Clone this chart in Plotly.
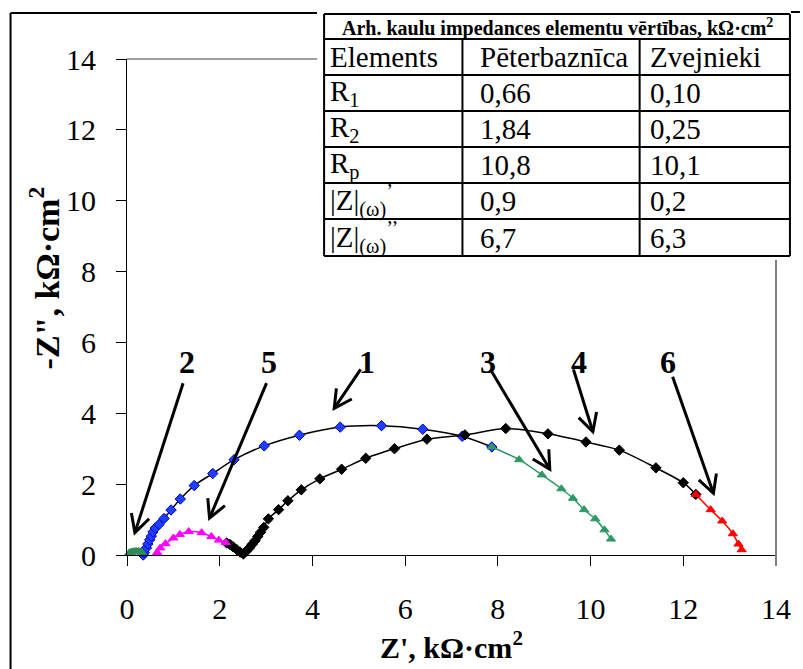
import math
import plotly.graph_objects as go

# ---- Nyquist data, kOhm*cm2 ----
# 1: first arc (blue markers)
s1_x = [0.35, 0.375, 0.42, 0.45, 0.49, 0.525, 0.56, 0.61, 0.69, 0.80, 0.95, 1.15, 1.45,
        1.85, 2.31, 2.96, 3.72, 4.60, 5.49, 6.38, 7.23, 7.87]
s1_y = [0.00, 0.07, 0.20, 0.31, 0.43, 0.53, 0.65, 0.76, 0.86, 1.03, 1.27, 1.58, 1.96,
        2.30, 2.69, 3.08, 3.38, 3.61, 3.65, 3.55, 3.35, 3.05]
# 2: high-frequency start (green)
s2_x = [0.05, 0.09, 0.13, 0.17, 0.21, 0.25, 0.29, 0.33]
s2_y = [0.06, 0.08, 0.09, 0.10, 0.10, 0.10, 0.09, 0.06]
# 3: low-frequency tail of 1 (green)
s3_x = [7.87, 8.46, 8.95, 9.37, 9.62, 9.86, 10.10, 10.30, 10.44]
s3_y = [3.05, 2.69, 2.26, 1.87, 1.60, 1.28, 1.02, 0.71, 0.45]
# 4: second arc (black markers)
s4_x = [2.15, 2.22, 2.29, 2.37, 2.44, 2.51, 2.58, 2.64, 2.70, 2.76, 2.82, 2.88, 2.95,
        3.05, 3.27, 3.47, 3.76, 4.16, 4.63, 5.15, 5.77, 6.47, 7.29, 8.17, 9.08, 9.90,
        10.62, 11.41, 12.00, 12.27]
s4_y = [0.34, 0.30, 0.23, 0.15, 0.08, 0.03, 0.12, 0.20, 0.30, 0.40, 0.52, 0.64, 0.78,
        1.02, 1.28, 1.53, 1.84, 2.15, 2.42, 2.73, 3.00, 3.27, 3.39, 3.57, 3.42, 3.19,
        2.96, 2.46, 2.04, 1.71]
# 5: high-frequency arc (magenta)
s5_x = [0.65, 0.72, 0.83, 1.00, 1.14, 1.33, 1.61, 1.82, 1.98, 2.13]
s5_y = [0.07, 0.20, 0.32, 0.48, 0.58, 0.66, 0.63, 0.52, 0.42, 0.35]
# 6: low-frequency tail of 4 (red)
s6_x = [12.27, 12.59, 12.84, 13.07, 13.19, 13.26]
s6_y = [1.71, 1.28, 0.96, 0.60, 0.31, 0.15]

axis_ticks = [0, 2, 4, 6, 8, 10, 12, 14]

# ---- table of element values ----
table_title = "Arh. kaulu impedances elementu vērtības, kΩ·cm<sup>2</sup>"
table_header = ["Elements", "Pēterbaznīca", "Zvejnieki"]
table_elements = ["R<sub>1</sub>", "R<sub>2</sub>", "R<sub>p</sub>",
                  "|Z|<sub>(ω)</sub><sup>’</sup>", "|Z|<sub>(ω)</sub><sup>’’</sup>"]
table_peterbaznica = ["0,66", "1,84", "10,8", "0,9", "6,7"]
table_zvejnieki = ["0,10", "0,25", "10,1", "0,2", "6,3"]

# ---- curve labels with arrows: (label, label x, label y, tail x, tail y, tip x, tip y) ----
curve_labels = [
    ("2", 1.29, 5.46, 1.21, 4.85, 0.17, 0.63),
    ("5", 3.06, 5.46, 3.01, 4.85, 1.78, 1.04),
    ("1", 5.17, 5.46, 5.04, 5.24, 4.47, 4.14),
    ("3", 7.79, 5.46, 7.87, 5.17, 9.12, 2.42),
    ("4", 9.74, 5.46, 9.63, 5.24, 10.05, 3.48),
    ("6", 11.67, 5.46, 11.77, 5.03, 12.65, 1.74),
]

FONT = "Liberation Serif"
W, H = 803, 669
ML, MR, MT, MB = 127, 24, 59, 114
PW, PH = W - ML - MR, H - MT - MB
SX, SY = PW / 14.0, PH / 14.0  # px per data unit


def px(x):
    return (x - ML) / PW


def py(y):
    return (H - MB - y) / PH


fig = go.Figure()


def add_series(x, y, symbol, mcolor, lcolor, size, mline=None):
    fig.add_trace(go.Scatter(
        x=x, y=y, mode="lines+markers",
        line=dict(color=lcolor, width=1.5, shape="spline", smoothing=0.8),
        marker=dict(symbol=symbol, color=mcolor, size=size,
                    line=dict(color=mline or mcolor, width=1)),
        cliponaxis=False, showlegend=False, hoverinfo="skip"))


add_series(s1_x, s1_y, "diamond", "#1f3fff", "black", 8, "#0000c0")
add_series(s3_x, s3_y, "triangle-up", "#2e9966", "#2e9966", 8)
add_series(s4_x, s4_y, "diamond", "black", "black", 8)
add_series(s5_x, s5_y, "triangle-up", "#ff00ff", "#ff00ff", 8)
add_series(s6_x, s6_y, "triangle-up", "#ff0000", "#ff0000", 8)
add_series(s2_x, s2_y, "triangle-up", "#2e8b57", "#2e8b57", 8)

shapes = []
annotations = []

# plot-area border (top, right)
shapes.append(dict(type="line", xref="paper", yref="paper", x0=0, y0=1, x1=1, y1=1,
                   line=dict(color="#808080", width=1.5)))
shapes.append(dict(type="line", xref="paper", yref="paper", x0=1, y0=py(H - MB + 11), x1=1, y1=1,
                   line=dict(color="#808080", width=2)))

# outer chart frame
shapes.append(dict(type="line", xref="paper", yref="paper", x0=px(10), y0=py(13), x1=px(10), y1=py(H),
                   line=dict(color="black", width=2)))
shapes.append(dict(type="line", xref="paper", yref="paper", x0=px(10), y0=py(13), x1=px(318), y1=py(13),
                   line=dict(color="black", width=2)))
shapes.append(dict(type="line", xref="paper", yref="paper", x0=px(794), y0=py(12), x1=px(803), y1=py(12),
                   line=dict(color="black", width=2)))

# arrows: straight shaft with an open V head
for lab, lx, ly, tx, ty, hx, hy in curve_labels:
    shapes.append(dict(type="line", xref="x", yref="y", x0=tx, y0=ty, x1=hx, y1=hy,
                       line=dict(color="black", width=3)))
    dx, dy = (hx - tx) * SX, (hy - ty) * SY
    n = math.hypot(dx, dy)
    ux, uy = dx / n, dy / n
    L, ang = 20, math.radians(28)
    pts = []
    for s in (1, -1):
        ca, sa = math.cos(s * ang), math.sin(s * ang)
        rx, ry = ux * ca - uy * sa, ux * sa + uy * ca
        pts.append((hx - L * rx / SX, hy - L * ry / SY))
    shapes.append(dict(type="path", xref="x", yref="y",
                       path=f"M {pts[0][0]},{pts[0][1]} L {hx},{hy} L {pts[1][0]},{pts[1][1]}",
                       line=dict(color="black", width=3)))
    annotations.append(dict(x=lx, y=ly, xref="x", yref="y", text=f"<b>{lab}</b>",
                            showarrow=False, xanchor="center", yanchor="middle",
                            font=dict(family=FONT, size=32, color="black")))

# table
TX0, TX1 = 325, 793
col_x = [325, 464, 642, 793]
row_y = [14, 39, 75, 111, 147, 183, 219, 256]
shapes.append(dict(type="rect", xref="paper", yref="paper", x0=px(318), x1=px(794),
                   y0=py(260), y1=py(0), fillcolor="white", line=dict(width=0)))
for yy in row_y:
    shapes.append(dict(type="line", xref="paper", yref="paper", x0=px(TX0), x1=px(TX1),
                       y0=py(yy), y1=py(yy), line=dict(color="black", width=2)))
for i, xx in enumerate(col_x):
    top = row_y[0] if i in (0, 3) else row_y[1]
    shapes.append(dict(type="line", xref="paper", yref="paper", x0=px(xx), x1=px(xx),
                       y0=py(top), y1=py(row_y[-1]), line=dict(color="black", width=2)))

annotations.append(dict(x=px((TX0 + TX1) / 2), y=py((row_y[0] + row_y[1]) / 2 + 1),
                        xref="paper", yref="paper", text=f"<b>{table_title}</b>",
                        showarrow=False, xanchor="center", yanchor="middle",
                        font=dict(family=FONT, size=20, color="black")))
text_x = [329, 480, 650]
rows = [table_header] + [list(r) for r in zip(table_elements, table_peterbaznica, table_zvejnieki)]
for r, row in enumerate(rows):
    yc = (row_y[r + 1] + row_y[r + 2]) / 2
    for c, txt in enumerate(row):
        annotations.append(dict(x=px(text_x[c]), y=py(yc), xref="paper", yref="paper",
                                text=txt, showarrow=False, xanchor="left", yanchor="middle",
                                font=dict(family=FONT, size=29, color="black")))

# axis titles
annotations.append(dict(x=px(453), y=py(645), xref="paper", yref="paper",
                        text="<b>Z', kΩ·cm<sup>2</sup></b>", showarrow=False,
                        xanchor="center", yanchor="middle",
                        font=dict(family=FONT, size=30, color="black")))
annotations.append(dict(x=px(44), y=py(278), xref="paper", yref="paper",
                        text="<b>-Z\", kΩ·cm<sup>2</sup></b>", showarrow=False, textangle=-90,
                        xanchor="center", yanchor="middle",
                        font=dict(family=FONT, size=34, color="black")))

axis_common = dict(range=[0, 14], tickvals=axis_ticks, ticks="outside", ticklen=10,
                   tickwidth=1, tickcolor="black", showline=True, linecolor="black",
                   linewidth=1.2, showgrid=False, zeroline=False, fixedrange=True,
                   tickfont=dict(family=FONT, size=30, color="black"))

fig.update_layout(
    width=W, height=H, autosize=False,
    margin=dict(l=ML, r=MR, t=MT, b=MB, pad=0),
    paper_bgcolor="white", plot_bgcolor="white",
    font=dict(family=FONT),
    xaxis=dict(**axis_common, ticklabelstandoff=17),
    yaxis=dict(**axis_common, ticklabelstandoff=14),
    shapes=shapes, annotations=annotations,
)

fig.write_html("out.html")
